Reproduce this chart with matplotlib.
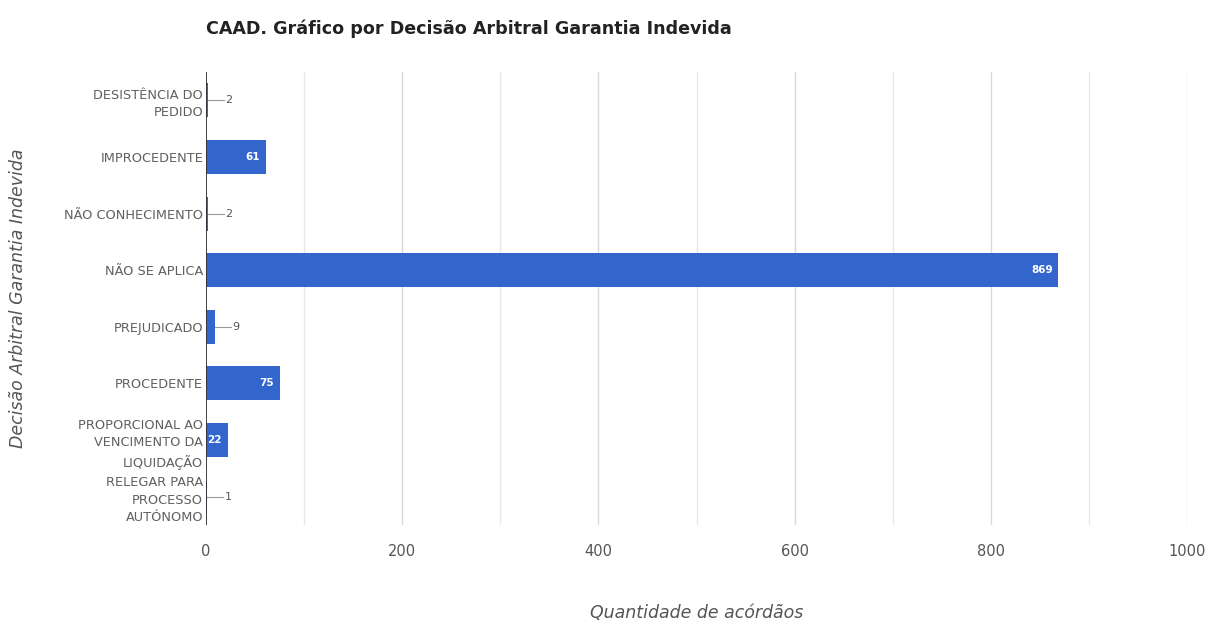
import matplotlib.pyplot as plt
import numpy as np

categorias = [
    "DESISTÊNCIA DO\nPEDIDO",
    "IMPROCEDENTE",
    "NÃO CONHECIMENTO",
    "NÃO SE APLICA",
    "PREJUDICADO",
    "PROCEDENTE",
    "PROPORCIONAL AO\nVENCIMENTO DA\nLIQUIDAÇÃO",
    "RELEGAR PARA\nPROCESSO\nAUTÓNOMO",
]
quantidades = [2, 61, 2, 869, 9, 75, 22, 1]
ticks_x = [0, 200, 400, 600, 800, 1000]

cor_barra = "#3366cc"
cinza = "#555555"

fig = plt.figure(figsize=(12.14, 6.22), dpi=100)
ax = fig.add_axes([206 / 1214, 1 - 525 / 622, (1187 - 206) / 1214, (525 - 72) / 622])

y = np.arange(len(categorias))
ax.barh(y, quantidades, height=0.6, color=cor_barra, zorder=3)
ax.set_ylim(len(categorias) - 0.5, -0.5)
ax.set_xlim(0, 1000)

# grelha vertical a cada 100
for v in range(100, 1001, 100):
    ax.axvline(v, color="#e8e8e8" if v % 200 else "#d8d8d8", lw=1, zorder=1)
ax.axvline(0, color="#333333", lw=1.3, zorder=4)

ax.set_yticks(y)
ax.set_yticklabels(categorias, fontsize=9.3, color="#606060", linespacing=1.45)
ax.set_xticks(ticks_x)
ax.set_xticklabels([str(t) for t in ticks_x], fontsize=10.5, color=cinza)
ax.tick_params(axis="both", length=0, pad=2)
ax.tick_params(axis="x", pad=14)
for s in ax.spines.values():
    s.set_visible(False)

# rótulos de valor: dentro da barra se couber, senão fora com traço
for yi, q in zip(y, quantidades):
    if q >= 20:
        ax.text(q - 6, yi, str(q), ha="right", va="center", color="white",
                fontsize=7.5, fontweight="bold", zorder=5)
    else:
        ax.plot([q, q + 16], [yi, yi], color="#999999", lw=0.8, zorder=5)
        ax.text(q + 18, yi, str(q), ha="left", va="center", color=cinza,
                fontsize=8, zorder=5)

ax.set_xlabel("Quantidade de acórdãos", fontsize=12.5, color=cinza,
              style="italic")
ax.xaxis.set_label_coords(0.5, -(613 - 525) / 453)
ax.xaxis.label.set_va("center")
ax.set_ylabel("Decisão Arbitral Garantia Indevida", fontsize=12.5, color=cinza,
              style="italic")
ax.yaxis.set_label_coords(-(206 - 18) / 981, 0.5)
ax.yaxis.label.set_va("center")

fig.text(206 / 1214, 1 - 29 / 622, "CAAD. Gráfico por Decisão Arbitral Garantia Indevida",
         fontsize=12.6, fontweight="bold", color="#222222", va="center", ha="left")

fig.savefig("out.png", dpi=100, facecolor="white")
